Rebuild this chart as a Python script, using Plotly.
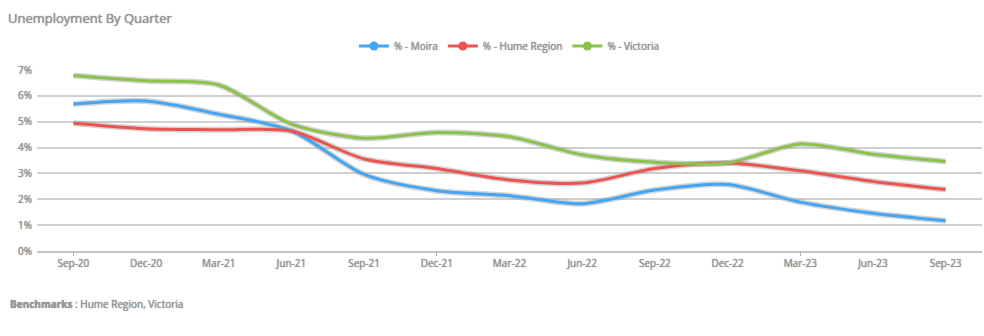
import plotly.graph_objects as go

# Quarterly unemployment rate (%)
quarters = ["Sep-20", "Dec-20", "Mar-21", "Jun-21", "Sep-21", "Dec-21", "Mar-22",
            "Jun-22", "Sep-22", "Dec-22", "Mar-23", "Jun-23", "Sep-23"]
moira = [5.68, 5.80, 5.29, 4.65, 2.96, 2.33, 2.14, 1.83, 2.36, 2.57, 1.89, 1.46, 1.17]
hume_region = [4.94, 4.73, 4.69, 4.64, 3.56, 3.19, 2.75, 2.63, 3.19, 3.40, 3.10, 2.69, 2.38]
victoria = [6.79, 6.58, 6.42, 4.91, 4.36, 4.58, 4.42, 3.72, 3.43, 3.40, 4.14, 3.74, 3.46]
y_ticks = [0, 1, 2, 3, 4, 5, 6, 7]
y_tick_labels = ["0%", "1%", "2%", "3%", "4%", "5%", "6%", "7%"]

series = [
    ("% - Moira", moira, "#42a5f5"),
    ("% - Hume Region", hume_region, "#ef5350"),
    ("% - Victoria", victoria, "#8bc34a"),
]

FONT = "Open Sans, Arial, sans-serif"
TEXT = "#9a9a9a"
SHADOW = "0px 0px 1px #666666"
GRID = "#cfcfcf"

fig = go.Figure()

# soft grey halo under each line
for name, values, color in series:
    fig.add_trace(go.Scatter(
        x=quarters, y=values, mode="lines", showlegend=False, hoverinfo="skip",
        line=dict(color="rgba(160,160,160,0.45)", width=6, shape="spline", smoothing=0.8),
    ))

for name, values, color in series:
    fig.add_trace(go.Scatter(
        x=quarters, y=values, mode="lines", name=name, showlegend=False,
        line=dict(color=color, width=3, shape="spline", smoothing=0.8),
        hovertemplate="%{x}: %{y:.1f}%<extra>" + name + "</extra>",
    ))

# legend entries (line with a circle marker)
for name, values, color in series:
    fig.add_trace(go.Scatter(
        x=[None], y=[None], mode="lines+markers", name=name,
        line=dict(color=color, width=3),
        marker=dict(color=color, size=9, symbol="circle"),
    ))

# tick marks on every fifth quarter
fig.add_trace(go.Scatter(x=quarters, y=[None] * len(quarters), xaxis="x2",
                         showlegend=False, hoverinfo="skip"))

fig.update_layout(
    width=984, height=336,
    margin=dict(l=37, r=2, t=62, b=85),
    paper_bgcolor="white", plot_bgcolor="white",
    font=dict(family=FONT, size=10, color=TEXT, shadow=SHADOW),
    title=dict(text="Unemployment By Quarter", x=8 / 984, xref="container", xanchor="left",
               y=1 - 18 / 336, yref="container", yanchor="middle",
               font=dict(size=13, color=TEXT, family=FONT, shadow=SHADOW)),
    legend=dict(orientation="h", x=0.5, xanchor="center", y=1 - 46 / 336, yref="container",
                yanchor="middle", font=dict(size=10, color=TEXT, shadow=SHADOW),
                itemwidth=30, tracegroupgap=0, bgcolor="rgba(0,0,0,0)"),
    xaxis=dict(type="category", categoryorder="array", categoryarray=quarters,
               range=[-0.5, len(quarters) - 0.5], showgrid=False, zeroline=False,
               showline=True, linecolor="#c4c4c4", linewidth=2, ticks="",
               tickfont=dict(size=10, color=TEXT, shadow=SHADOW), ticklabelstandoff=2),
    xaxis2=dict(type="category", categoryorder="array", categoryarray=quarters,
                range=[-0.5, len(quarters) - 0.5], overlaying="x", anchor="y",
                side="bottom", tickvals=quarters[::5], ticks="outside", ticklen=4,
                tickcolor="#b0b0b0", showticklabels=False, showgrid=False,
                showline=False, zeroline=False),
    yaxis=dict(range=[0, 7], tickvals=y_ticks, ticktext=y_tick_labels, showgrid=True,
               gridcolor=GRID, gridwidth=2, zeroline=False, showline=False,
               ticks="", tickfont=dict(size=10, color=TEXT, shadow=SHADOW),
               ticklabelstandoff=4),
    annotations=[dict(text="<b>Benchmarks</b> : Hume Region, Victoria", xref="paper",
                      yref="paper", x=-29 / 945, y=-55 / 189, xanchor="left",
                      yanchor="middle", showarrow=False,
                      font=dict(size=10, color=TEXT, family=FONT, shadow=SHADOW))],
    hovermode="x",
)

fig.write_html("out.html")
